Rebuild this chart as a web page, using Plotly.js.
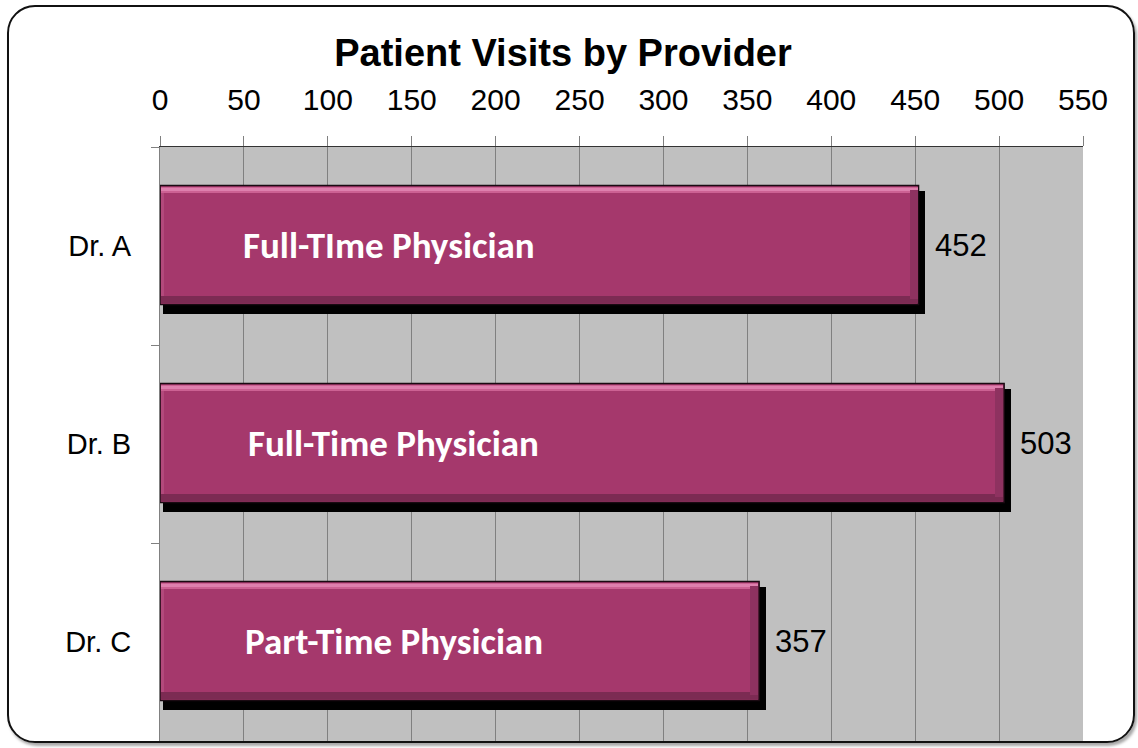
<!DOCTYPE html>
<html>
<head>
<meta charset="utf-8">
<script src="https://cdn.plot.ly/plotly-3.0.1.min.js"></script>
<style>
  html, body { margin: 0; padding: 0; background: #fff; }
  #wrap { position: relative; width: 1138px; height: 748px; overflow: hidden; }
  #chart { position: absolute; left: 0; top: 0; width: 1138px; height: 748px; }
  #frame { position: absolute; left: 7px; top: 5px; width: 1124px; height: 734px;
           border: 2.5px solid #111; border-radius: 28px; pointer-events: none;
           box-shadow: 2px 3px 3px rgba(0,0,0,0.35); }
</style>
</head>
<body>
<div id="wrap"><div id="chart"></div><div id="frame"></div></div>
<script>
// ---- data ----
const providers = ['Dr. A', 'Dr. B', 'Dr. C'];
const visits = [452, 503, 357];
const roles = ['Full-TIme Physician', 'Full-Time Physician', 'Part-Time Physician'];
const xTicks = [0, 50, 100, 150, 200, 250, 300, 350, 400, 450, 500, 550];

// ---- styling constants ----
const roleLabelX = [48, 51.5, 49.5];
const PX = 1 / 198;          // one pixel in category units
const UX = 550 / 923;        // one pixel in value units
const barW = 0.6, barOff = -0.305;
const barColor = '#A5386C';

const hbar = (x, opts) => Object.assign({ type: 'bar', orientation: 'h', y: providers, x: x,
  hoverinfo: 'skip' }, opts);

const traces = [
  // drop shadow
  hbar(visits.map(v => v + 4 * UX), { base: 2.5 * UX, width: barW + 5 * PX, offset: barOff + 5 * PX,
    marker: { color: '#000' } }),
  // main bar with thin dark outline
  hbar(visits, { width: barW, offset: barOff,
    marker: { color: barColor, line: { color: '#1a0a12', width: 1.5 } } }),
  // left light bevel
  hbar(visits.map(() => 3 * UX), { base: 1 * UX, width: barW - 3 * PX, offset: barOff + 1.5 * PX,
    marker: { color: '#B3497C' } }),
  // top bevel
  hbar(visits.map(v => v - 2 * UX), { base: 1 * UX, width: 6 * PX, offset: barOff + 1.5 * PX,
    marker: { color: '#CC6193' } }),
  hbar(visits.map(v => v - 2 * UX), { base: 1 * UX, width: 2.5 * PX, offset: barOff + 2.5 * PX,
    marker: { color: '#DE80AE' } }),
  // bottom bevel
  hbar(visits.map(v => v - 2 * UX), { base: 1 * UX, width: 7 * PX, offset: barOff + barW - 8.5 * PX,
    marker: { color: '#7C2B53' } }),
  // right bevel
  hbar(visits.map(() => 8 * UX), { base: visits.map(v => v - 9 * UX), width: barW - 9 * PX,
    offset: barOff + 4 * PX, marker: { color: '#8E3260' } })
];

const annotations = [];
providers.forEach((p, i) => {
  annotations.push({ x: visits[i], y: p, xref: 'x', yref: 'y', text: String(visits[i]),
    showarrow: false, xanchor: 'left', yanchor: 'middle', xshift: 14, yshift: 1,
    font: { family: 'Liberation Sans, Arial, sans-serif', size: 31, color: '#000' } });
  annotations.push({ x: roleLabelX[i], y: p, xref: 'x', yref: 'y', text: '<b>' + roles[i] + '</b>',
    showarrow: false, xanchor: 'left', yanchor: 'middle', yshift: 1,
    font: { family: 'Carlito, Lato, Open Sans, sans-serif', size: 37, color: '#fff' } });
});

const layout = {
  width: 1138, height: 748,
  margin: { l: 160, r: 55, t: 147, b: 7 },
  paper_bgcolor: '#fff', plot_bgcolor: '#C0C0C0',
  barmode: 'overlay', showlegend: false, bargap: 0,
  title: { text: '<b>Patient Visits by Provider</b>', x: 563 / 1138, xref: 'container', xanchor: 'center',
    y: 1 - 53 / 748, yref: 'container', yanchor: 'middle',
    font: { family: 'Liberation Sans, Arial, sans-serif', size: 38, color: '#000' } },
  xaxis: { side: 'top', range: [0, 550], tickvals: xTicks, ticktext: xTicks.map(String),
    showgrid: true, gridcolor: '#808080', gridwidth: 1, zeroline: false,
    ticks: 'outside', ticklen: 10, tickcolor: '#808080', ticklabelstandoff: 14,
    showline: true, linecolor: '#333', linewidth: 1,
    tickfont: { family: 'Liberation Sans, Arial, sans-serif', size: 30, color: '#000' } },
  yaxis: { type: 'category', categoryorder: 'array', categoryarray: providers,
    range: [2.5, -0.5], tickson: 'boundaries', ticks: 'outside', ticklen: 8, tickcolor: '#808080',
    showgrid: false, zeroline: false, showline: true, linecolor: '#808080', linewidth: 1,
    ticklabelstandoff: 22,
    tickfont: { family: 'Liberation Sans, Arial, sans-serif', size: 29, color: '#000' } },
  annotations: annotations
};

Plotly.newPlot('chart', traces, layout, { displayModeBar: false, staticPlot: true });
</script>
</body>
</html>
